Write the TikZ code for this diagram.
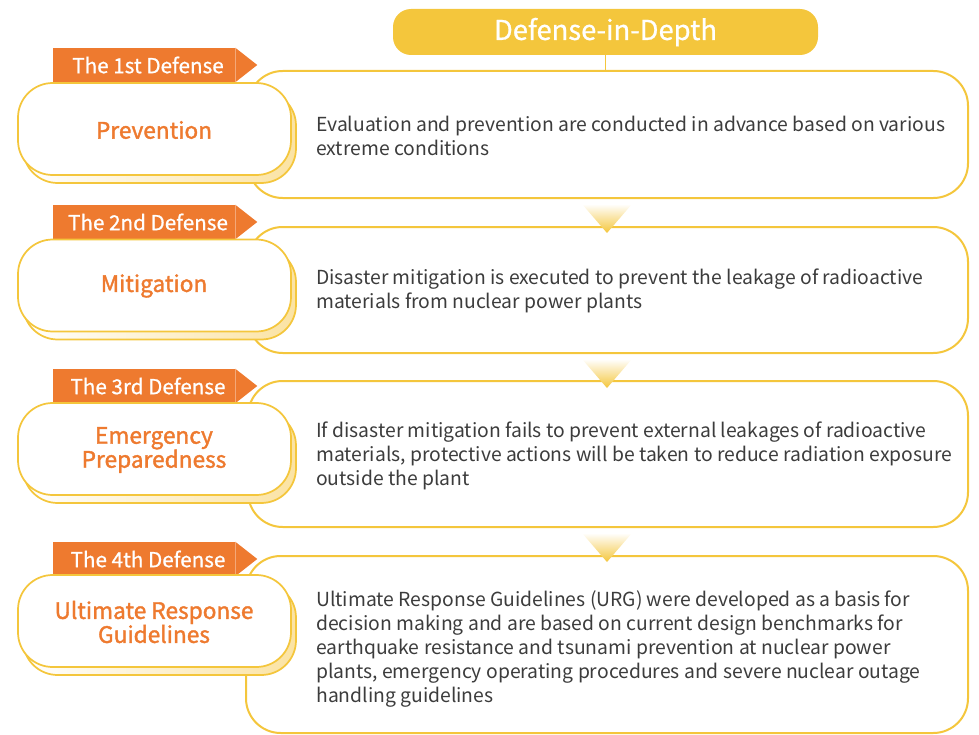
\documentclass[tikz,border=0pt]{standalone}
\usepackage{fontspec}
\setmainfont{Noto Sans CJK TC}
\newfontfamily\semib[FakeBold=1.6]{Noto Sans CJK TC}
\newfontfamily\medf[FakeBold=0.8]{Noto Sans CJK TC}
\definecolor{yc}{HTML}{F4C63C}
\definecolor{ylight}{HTML}{FBE3A3}
\definecolor{oc}{HTML}{EE7A2F}
\definecolor{tc}{HTML}{3C3C3C}
\begin{document}
\begin{tikzpicture}[x=0.75pt,y=-0.75pt,
  bigbox/.style={draw=yc, line width=1.5pt, fill=white, rounded corners=26pt, minimum width=540pt},
  frontbox/.style={draw=yc, line width=1.3pt, fill=white, rounded corners=26pt, minimum width=204.75pt, minimum height=69pt, inner sep=0pt},
  shadowbox/.style={draw=yc, line width=1.3pt, left color=white, right color=ylight, rounded corners=26pt, minimum width=204.75pt, minimum height=69pt, inner sep=0pt},
  tagbox/.style={fill=oc, minimum width=136.5pt, minimum height=25.5pt, inner sep=0pt},
  tagtext/.style={text=white, inner sep=0pt, font=\medf\fontsize{15.5}{18}\selectfont},
  label/.style={text=oc, align=center, font=\semib\fontsize{17}{18}\selectfont},
  body/.style={text=tc, anchor=west, align=left, inner sep=0pt, font=\fontsize{14.5}{18}\selectfont},
  yline/.style={draw=yc, line width=1.3pt},
  tri/.style={top color=white, bottom color=yc}]
\useasboundingbox (0,0) rectangle (979,735);
% title
\node[fill=yc, rounded corners=13.5pt, minimum width=318.75pt, minimum height=34.5pt, text=white, font=\medf\fontsize{20.5}{24}\selectfont] (title) at (605.5,32) {Defense-in-Depth};
% big boxes
\node[bigbox, minimum height=95.25pt] (b1) at (608,134.5) {};
\node[bigbox, minimum height=94.5pt] (b2) at (608,290) {};
\node[bigbox, minimum height=109.5pt] (b3) at (608,454) {};
\node[bigbox, minimum height=132.75pt, minimum width=541.5pt] (b4) at (607,644.5) {};
\draw[yline] (title.south) -- (title.south |- b1.north);
% triangles
\shade[tri] (582,204) -- (632,204) -- (607,233) -- cycle;
\shade[tri] (582,359) -- (632,359) -- (607,388) -- cycle;
\shade[tri] (582,533) -- (632,533) -- (607,562) -- cycle;
% tags
\node[tagbox] (t1) at (144,65) {};
\node[tagbox] (t2) at (144,222) {};
\node[tagbox] (t3) at (144,386) {};
\node[tagbox] (t4) at (144,559) {};
\foreach \t in {t1,t2,t3,t4}{
  \fill[oc] (\t.north east) -- ([xshift=16.5pt]\t.east) -- (\t.south east) -- cycle;
}
\node[tagtext] (tt1) at (148,65) {The 1st Defense};
\node[tagtext] (tt2) at (148,222) {The 2nd Defense};
\node[tagtext] (tt3) at (148,386) {The 3rd Defense};
\node[tagtext] (tt4) at (148,559) {The 4th Defense};
% left boxes
\node[shadowbox] (s1) at (159.5,137) {};
\node[frontbox] (f1) at (154.5,129) {};
\node[shadowbox] (s2) at (159.5,293.5) {};
\node[frontbox] (f2) at (154.5,285.5) {};
\node[shadowbox] (s3) at (159.5,457) {};
\node[frontbox] (f3) at (154.5,449) {};
\node[shadowbox] (s4) at (159.5,629) {};
\node[frontbox] (f4) at (154.5,621) {};
\node[label] (l1) at (154,130) {Prevention};
\node[label] (l2) at (154,286) {Mitigation};
\node[label] (l3) at (154,450) {Emergency\\Preparedness};
\node[label] (l4) at (154,622) {Ultimate Response\\Guidelines};
% body texts
\node[body] (x1) at (316,136) {Evaluation and prevention are conducted in advance based on various\\extreme conditions};
\node[body] (x2) at (316,291) {Disaster mitigation is executed to prevent the leakage of radioactive\\materials from nuclear power plants};
\node[body] (x3) at (316,456) {If disaster mitigation fails to prevent external leakages of radioactive\\materials, protective actions will be taken to reduce radiation exposure\\outside the plant};
\node[body] (x4) at (316,649) {Ultimate Response Guidelines (URG) were developed as a basis for\\decision making and are based on current design benchmarks for\\earthquake resistance and tsunami prevention at nuclear power\\plants, emergency operating procedures and severe nuclear outage\\handling guidelines};
\end{tikzpicture}
\end{document}
